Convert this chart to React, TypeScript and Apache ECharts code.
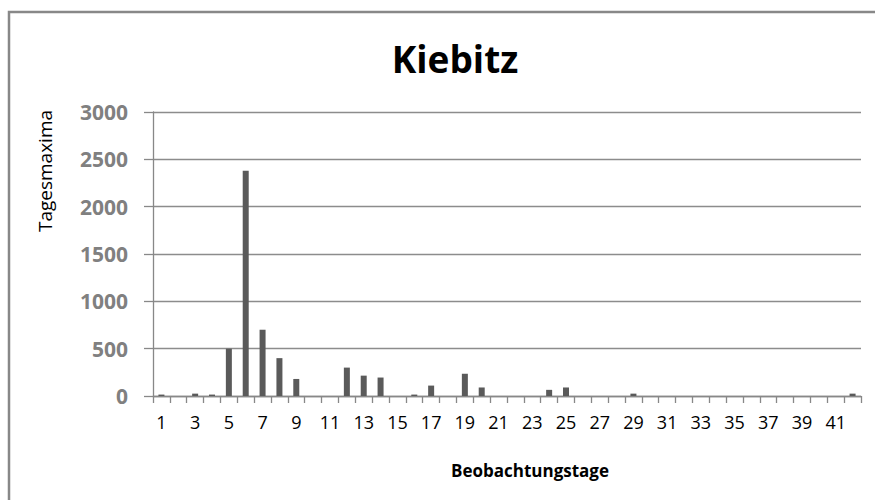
import React, { useEffect, useRef } from "react";
import * as echarts from "echarts";

const days: string[] = Array.from({ length: 42 }, (_, i) => String(i + 1));
const maxima: number[] = [
  15, 0, 25, 15, 500, 2380, 700, 400, 180, 0,
  0, 300, 215, 195, 0, 15, 110, 0, 235, 90,
  0, 0, 0, 65, 90, 0, 0, 0, 25, 0,
  0, 0, 0, 0, 0, 0, 0, 0, 0, 0,
  0, 25,
];
const yTicks = { min: 0, max: 3000, interval: 500 };
const titleText = "Kiebitz";
const xTitle = "Beobachtungstage";
const yTitle = "Tagesmaxima";

export default function App() {
  const ref = useRef<HTMLDivElement>(null);
  useEffect(() => {
    document.body.style.margin = "0";
    if (!ref.current) return;
    const chart = echarts.init(ref.current, null, { renderer: "svg" });
    const font = "'Open Sans', sans-serif";
    chart.setOption({
      animation: false,
      backgroundColor: "#ffffff",
      grid: { left: 153, right: 14, top: 112, bottom: 104, containLabel: false },
      graphic: [
        {
          type: "rect",
          shape: { x: 9, y: 12, width: 900, height: 520 },
          style: { fill: "none", stroke: "#888888", lineWidth: 2.5 },
          silent: true,
        },
        {
          type: "text",
          x: 455,
          y: 58,
          style: {
            text: titleText,
            font: `bold 37px ${font}`,
            fill: "#000000",
            align: "center",
            verticalAlign: "middle",
          },
        },
        {
          type: "text",
          x: 530,
          y: 470,
          style: {
            text: xTitle,
            font: `bold 17px ${font}`,
            fill: "#000000",
            align: "center",
            verticalAlign: "middle",
          },
        },
        {
          type: "text",
          x: 45,
          y: 171,
          rotation: Math.PI / 2,
          style: {
            text: yTitle,
            font: `19px ${font}`,
            fill: "#000000",
            align: "center",
            verticalAlign: "middle",
          },
        },
      ],
      xAxis: {
        type: "category",
        data: days,
        boundaryGap: true,
        axisLine: { show: true, lineStyle: { color: "#888888", width: 1.3 } },
        axisTick: { show: true, length: 7, inside: false, alignWithLabel: false, interval: 0, lineStyle: { color: "#888888", width: 1.3 } },
        axisLabel: { interval: 1, margin: 17, color: "#000000", fontFamily: font, fontSize: 18 },
        splitLine: { show: false },
      },
      yAxis: {
        type: "value",
        min: yTicks.min,
        max: yTicks.max,
        interval: yTicks.interval,
        axisLine: { show: true, lineStyle: { color: "#888888", width: 1.3 } },
        axisTick: { show: true, length: 9, inside: false, lineStyle: { color: "#888888", width: 1.3 } },
        axisLabel: {
          margin: 25,
          color: "#808080",
          fontFamily: font,
          fontWeight: "bold",
          fontSize: 21,
          formatter: (v: number) => String(v),
        },
        splitLine: { show: true, lineStyle: { color: "#8c8c8c", width: 1.3 } },
      },
      series: [
        {
          type: "bar",
          data: maxima,
          barWidth: 6,
          itemStyle: { color: "#5a5a5a" },
        },
      ],
    });
    return () => chart.dispose();
  }, []);
  return <div ref={ref} style={{ width: 875, height: 500 }} />;
}
